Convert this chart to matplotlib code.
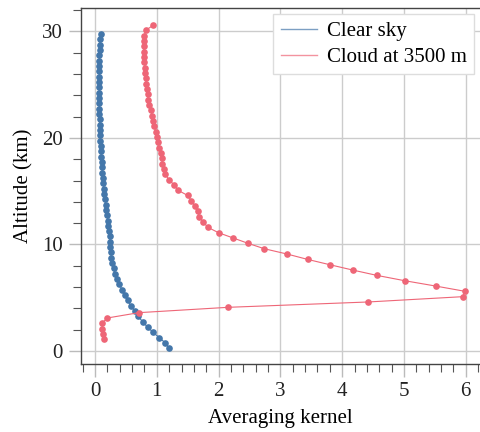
"""
Averaging kernel profiles: clear sky vs. cloud at 3500 m.
"""

import numpy as np
import matplotlib
matplotlib.use("Agg")
import matplotlib.pyplot as plt
from matplotlib.ticker import MultipleLocator

# Clear sky kernel, levels every 0.5 km from 0.25 km
clear_alt = [0.25, 0.75, 1.25, 1.75, 2.25, 2.75, 3.25, 3.75, 4.25, 4.75,
             5.25, 5.75, 6.25, 6.75, 7.25, 7.75, 8.25, 8.75, 9.25, 9.75,
             10.25, 10.75, 11.25, 11.75, 12.25, 12.75, 13.25, 13.75, 14.25, 14.75,
             15.25, 15.75, 16.25, 16.75, 17.25, 17.75, 18.25, 18.75, 19.25, 19.75,
             20.25, 20.75, 21.25, 21.75, 22.25, 22.75, 23.25, 23.75, 24.25, 24.75,
             25.25, 25.75, 26.25, 26.75, 27.25, 27.75, 28.25, 28.75, 29.25, 29.75]
clear_ak = [1.20, 1.14, 1.04, 0.94, 0.85, 0.77, 0.70, 0.64, 0.58, 0.53,
            0.48, 0.44, 0.39, 0.35, 0.32, 0.30, 0.28, 0.265, 0.255, 0.25,
            0.245, 0.235, 0.225, 0.215, 0.205, 0.195, 0.18, 0.17, 0.16, 0.15,
            0.14, 0.135, 0.125, 0.12, 0.11, 0.105, 0.10, 0.095, 0.09, 0.085,
            0.08, 0.08, 0.075, 0.075, 0.07, 0.07, 0.07, 0.07, 0.07, 0.07,
            0.07, 0.07, 0.07, 0.07, 0.07, 0.072, 0.075, 0.078, 0.082, 0.09]

# Cloudy kernel, levels every 0.5 km from 1.1 km
cloud_alt = [1.1, 1.6, 2.1, 2.6, 3.1, 3.6, 4.1, 4.6, 5.1, 5.6,
             6.1, 6.6, 7.1, 7.6, 8.1, 8.6, 9.1, 9.6, 10.1, 10.6,
             11.1, 11.6, 12.1, 12.6, 13.1, 13.6, 14.1, 14.6, 15.1, 15.6,
             16.1, 16.6, 17.1, 17.6, 18.1, 18.6, 19.1, 19.6, 20.1, 20.6,
             21.1, 21.6, 22.1, 22.6, 23.1, 23.6, 24.1, 24.6, 25.1, 25.6,
             26.1, 26.6, 27.1, 27.6, 28.1, 28.6, 29.1, 29.6, 30.1, 30.6]
cloud_ak = [0.15, 0.135, 0.12, 0.11, 0.20, 0.71, 2.15, 4.41, 5.95, 5.99,
            5.51, 5.01, 4.56, 4.17, 3.80, 3.44, 3.11, 2.74, 2.48, 2.24,
            2.00, 1.83, 1.75, 1.69, 1.66, 1.62, 1.56, 1.50, 1.34, 1.28,
            1.19, 1.14, 1.11, 1.09, 1.08, 1.07, 1.04, 1.02, 1.00, 0.98,
            0.96, 0.94, 0.92, 0.905, 0.88, 0.86, 0.85, 0.835, 0.825, 0.82,
            0.815, 0.81, 0.80, 0.79, 0.79, 0.79, 0.79, 0.80, 0.82, 0.945]

BLUE = "#4477AA"
RED = "#EE6677"

plt.rcParams["font.family"] = ["Liberation Serif", "DejaVu Serif"]
plt.rcParams["font.size"] = 15

fig = plt.figure(figsize=(4.8, 4.32), dpi=100)
ax = fig.add_axes([81 / 480, 68 / 432, 1 - 81 / 480, (364 - 8) / 432])

ax.plot(clear_ak, clear_alt, color=BLUE, lw=0.8, marker="o", ms=4.8,
        mec="none", label="Clear sky")
ax.plot(cloud_ak, cloud_alt, color=RED, lw=0.8, marker="o", ms=4.8,
        mec="none", label="Cloud at 3500 m")

ax.set_xlim(-0.227, 6.23)
ax.set_ylim(-1.22, 32.2)
ax.xaxis.set_major_locator(MultipleLocator(1))
ax.xaxis.set_minor_locator(MultipleLocator(0.2))
ax.yaxis.set_major_locator(MultipleLocator(10))
ax.yaxis.set_minor_locator(MultipleLocator(2))

ax.grid(True, which="major", color="#cccccc", lw=1)
ax.set_axisbelow(True)
ax.tick_params(which="major", direction="out", length=9, width=1,
               color="#bbbbbb", labelcolor="#222222", pad=4)
ax.tick_params(which="minor", direction="out", length=6, width=0.8,
               color="#555555")

for side in ("left", "bottom", "top"):
    ax.spines[side].set_color("#444444")
    ax.spines[side].set_linewidth(1)
ax.spines["right"].set_visible(False)

ax.set_xlabel("Averaging kernel", labelpad=6)
ax.set_ylabel("Altitude (km)", labelpad=6)

leg = ax.legend(loc="upper right", fontsize=15, fancybox=False,
                edgecolor="#dddddd", framealpha=1, handlelength=1.75,
                borderaxespad=0.3, handletextpad=0.45, borderpad=0.35,
                labelspacing=0.3)
for line in leg.get_lines():
    line.set_marker("")
    line.set_alpha(0.7)
    line.set_linewidth(1)

fig.savefig("out.png", dpi=100)
